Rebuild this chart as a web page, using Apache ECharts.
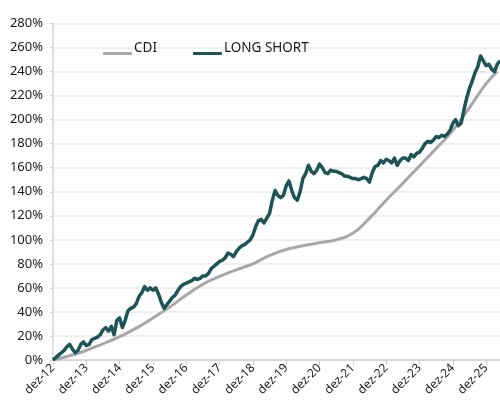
<!DOCTYPE html>
<html>
<head>
<meta charset="utf-8">
<script src="https://cdn.jsdelivr.net/npm/echarts@6/dist/echarts.min.js"></script>
<style>
  html, body { margin: 0; padding: 0; background: #fff; }
  #chart { width: 500px; height: 403px; }
</style>
</head>
<body>
<div id="chart"></div>
<script>
// x = months since dez-12
const yearTicks = [0, 12, 24, 36, 48, 60, 72, 84, 96, 108, 120, 132, 144, 156];

// CDI, read every 6 months (last point at month 160)
const cdiMonths = [0, 6, 12, 18, 24, 30, 36, 42, 48, 54, 60, 66, 72, 78, 84, 90, 96, 102,
  108, 114, 120, 126, 132, 138, 144, 150, 156, 160];
const cdiValues = [0, 3.5, 8, 13.5, 19.5, 26.5, 35, 44, 54, 63, 69.5, 75, 80, 87, 92, 95, 97.5, 100,
  105.5, 118, 133, 147, 161.5, 176, 191, 210, 230, 240];

// LONG SHORT, one value per month from dez-12
const longShort = [
  0, 2, 4, 6, 8, 11, 13, 9, 6, 8, 13, 15,
  12, 13, 17, 18, 19, 21, 25, 27, 24, 28, 21, 33,
  35, 27, 33, 41, 43, 44, 47, 53, 56, 61, 58, 60,
  58, 60, 55, 48, 43, 46, 49, 52, 54, 58, 61, 63,
  64, 65, 66, 68, 67, 68, 70, 70, 72, 76, 78, 80,
  82, 83, 85, 89, 88, 86, 90, 93, 95, 96, 98, 100,
  104, 111, 116, 117, 114, 118, 122, 133, 141, 137, 135, 137,
  145, 149, 141, 135, 133, 140, 151, 155, 162, 157, 155, 158,
  163, 160, 156, 155, 158, 157, 157, 156, 155, 153, 153, 152,
  151, 151, 150, 151, 152, 151, 148, 156, 161, 162, 166, 164,
  167, 166, 164, 168, 162, 166, 168, 168, 166, 171, 169, 172,
  173, 176, 180, 182, 181, 183, 186, 185, 187, 186, 188, 191,
  197, 200, 195, 197, 208, 218, 226, 232, 239, 244, 253, 249,
  245, 246, 242, 240, 246, 249
];

const chart = echarts.init(document.getElementById('chart'));

const fontFamily = '"Noto Sans", sans-serif';

chart.setOption({
  animation: false,
  textStyle: { fontFamily: fontFamily },
  legend: {
    left: 98,
    top: 36,
    itemWidth: 29,
    itemHeight: 3,
    itemGap: 36,
    icon: 'roundRect',
    formatter: name => '{t|' + name + '}',
    textStyle: {
      rich: { t: { fontSize: 13.5, color: '#1a1a1a', padding: [0, 0, 11, -3] } }
    },
    data: ['CDI', 'LONG SHORT']
  },
  grid: { left: 53, right: 0, top: 23.5, bottom: 43 },
  xAxis: {
    type: 'value',
    min: 0,
    max: 161,
    interval: 12,
    axisLine: { lineStyle: { color: '#cfcfcf', width: 1.5 } },
    axisTick: { show: true, length: 5, customValues: yearTicks, lineStyle: { color: '#cfcfcf' } },
    axisLabel: {
      customValues: yearTicks,
      rotate: 45,
      margin: 6,
      fontSize: 12,
      color: '#1a1a1a',
      formatter: v => 'dez-' + (12 + v / 12)
    },
    splitLine: { show: false }
  },
  yAxis: {
    type: 'value',
    min: 0,
    max: 280,
    interval: 20,
    axisLine: { show: true, lineStyle: { color: '#d6d6d6', width: 1.5 } },
    axisTick: { show: true, length: 3, lineStyle: { color: '#d6d6d6' } },
    axisLabel: { fontSize: 13, color: '#1a1a1a', margin: 10, formatter: '{value}%' },
    splitLine: { lineStyle: { color: '#e8e8e8', width: 1.5 } }
  },
  series: [
    {
      name: 'CDI',
      type: 'line',
      smooth: true,
      showSymbol: false,
      data: cdiMonths.map((m, i) => [m, cdiValues[i]]),
      lineStyle: { color: '#a8a8a8', width: 3 },
      itemStyle: { color: '#a8a8a8' }
    },
    {
      name: 'LONG SHORT',
      type: 'line',
      showSymbol: false,
      data: longShort.map((v, i) => [i, v]),
      lineStyle: { color: '#1d5456', width: 3.5, join: 'round' },
      itemStyle: { color: '#1d5456' }
    }
  ]
});
</script>
</body>
</html>
